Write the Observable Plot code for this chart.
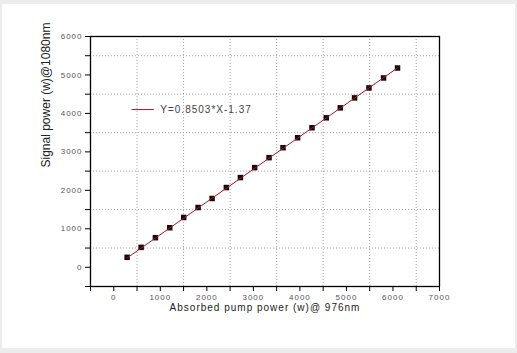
<!DOCTYPE html>
<html>
<head>
<meta charset="utf-8">
<script src="https://cdn.jsdelivr.net/npm/d3@7"></script>
<script src="https://cdn.jsdelivr.net/npm/@observablehq/plot@0.6"></script>
<style>
  html, body { margin: 0; padding: 0; background: #ececec; }
  #wrap { position: relative; width: 517px; height: 353px; overflow: hidden; }
  #panel { position: absolute; left: 2px; top: 4px; width: 513px; height: 344px; background: #ffffff; }
  #chart { position: absolute; left: 0; top: 0; }
  .tick-lbl text { letter-spacing: 1px; }
  .x-title text { letter-spacing: 1px; }
  .legend-txt text { letter-spacing: 1px; }
</style>
</head>
<body>
<div id="wrap"><div id="panel"></div><div id="chart"></div></div>
<script>
// Data
const absorbedPump = [287, 588, 895, 1203, 1503, 1812, 2113, 2420, 2721, 3028, 3337, 3637, 3951, 4260, 4567, 4868, 5175, 5484, 5798, 6098];
const signalPower = [259, 518, 769, 1028, 1295, 1554, 1788, 2073, 2332, 2591, 2850, 3109, 3368, 3627, 3886, 4145, 4404, 4663, 4922, 5181];
const fitSlope = 0.8503;
const fitIntercept = -1.37;
const fitLabel = "Y=0.8503*X-1.37";
const xMajorTicks = [0, 1000, 2000, 3000, 4000, 5000, 6000, 7000];
const xMinorTicks = [-500, 500, 1500, 2500, 3500, 4500, 5500, 6500];
const yMajorTicks = [0, 1000, 2000, 3000, 4000, 5000, 6000];
const yMinorTicks = [-500, 500, 1500, 2500, 3500, 4500, 5500];
const xTitle = "Absorbed pump power (w)@ 976nm";
const yTitle = "Signal power (w)@1080nm";
// legend anchor (data coordinates)
const legendLine = [{x: 391, y: 4100}, {x: 853, y: 4100}];
const legendText = [{x: 1000, y: 4100, label: fitLabel}];

const pts = absorbedPump.map((x, i) => ({x, y: signalPower[i]}));
const x0 = absorbedPump[0], x1 = absorbedPump[absorbedPump.length - 1];
const fitPts = [x0, x1].map(x => ({x, y: fitSlope * x + fitIntercept}));
const fmt = d => String(d);

const chart = Plot.plot({
  width: 517,
  height: 353,
  marginLeft: 90,
  marginRight: 78,
  marginTop: 36,
  marginBottom: 67,
  style: {background: "transparent", fontFamily: "'Liberation Sans', Arial, sans-serif"},
  x: {domain: [-500, 7000]},
  y: {domain: [-500, 6000]},
  marks: [
    Plot.gridX(xMinorTicks.filter(d => d > -500), {stroke: "#9a9a9a", strokeOpacity: 0.9, strokeDasharray: "1,2"}),
    Plot.gridY(yMinorTicks.filter(d => d > -500), {stroke: "#9a9a9a", strokeOpacity: 0.9, strokeDasharray: "1,2"}),
    Plot.axisX(xMajorTicks, {tickSize: 5, tickPadding: 3, tickFormat: fmt, fontSize: 8, fill: "#555", stroke: "#000", className: "tick-lbl", label: null}),
    Plot.axisX(xMinorTicks, {tickSize: 5, tickFormat: () => "", stroke: "#000", label: null}),
    Plot.axisY(yMajorTicks, {tickSize: 5, tickPadding: 3, tickFormat: fmt, fontSize: 8, fill: "#555", stroke: "#000", className: "tick-lbl", label: null}),
    Plot.axisY(yMinorTicks, {tickSize: 5, tickFormat: () => "", stroke: "#000", label: null}),
    Plot.frame({stroke: "#000", strokeWidth: 1.3}),
    Plot.dot(pts, {x: "x", y: "y", symbol: "square", r: 3.1, fill: "#1a0808", stroke: "none"}),
    Plot.line(fitPts, {x: "x", y: "y", stroke: "#a0182c", strokeWidth: 1}),
    Plot.line(legendLine, {x: "x", y: "y", stroke: "#a0182c", strokeWidth: 1}),
    Plot.text(legendText, {x: "x", y: "y", text: "label", textAnchor: "start", fontSize: 10, fill: "#444", className: "legend-txt"}),
    Plot.text([xTitle], {frameAnchor: "bottom", dy: 24, fontSize: 10, fill: "#222", className: "x-title"}),
    Plot.text([yTitle], {frameAnchor: "left", dx: -44, dy: 6, rotate: -90, fontSize: 12, fill: "#222"})
  ]
});
document.getElementById("chart").appendChild(chart);
</script>
</body>
</html>
